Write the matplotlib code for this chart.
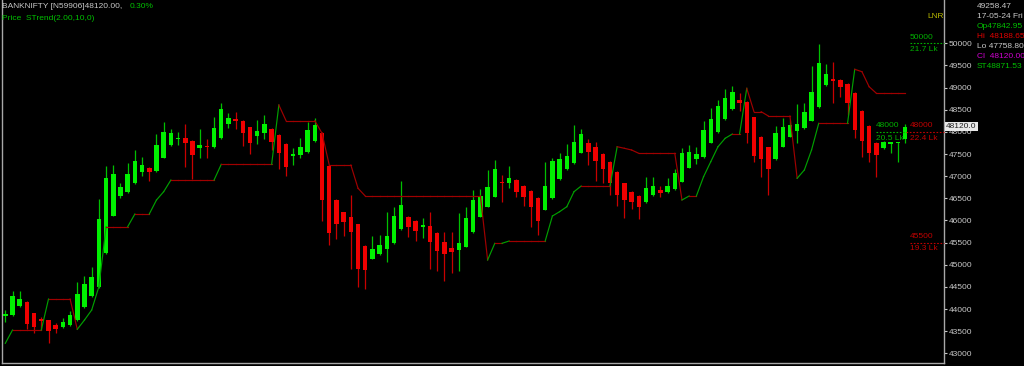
import numpy as np
import matplotlib
matplotlib.use('Agg')
import matplotlib.pyplot as plt

opens = [43849, 43865, 44075, 44150, 43900, 43770, 43750, 43640, 43590, 43630,
         43750, 44040, 44300, 44500, 45270, 46110, 46560, 46650, 46850, 47100,
         47180, 47120, 47420, 47700, 47830, 47855, 47800, 47630, 47680, 47650,
         47855, 48170, 48270, 48245, 48100, 47907, 47968, 48065, 47930, 47726,
         47455, 47478, 47552, 47794, 47968, 47229, 46462, 46184, 46085, 45913,
         45423, 45136, 45236, 45349, 45484, 45800, 46071, 45981, 45859, 45875,
         45710, 45507, 45371, 45333, 45407, 45732, 46085, 46310, 46536, 46875,
         46839, 46907, 46778, 46665, 46500, 46243, 46500, 46929, 47155, 47290,
         47530, 47742, 47652, 47500, 47327, 47101, 46839, 46642, 46552, 46410,
         46575, 46688, 46636, 46703, 46875, 47191, 47381, 47426, 47756, 47990,
         48291, 48517, 48720, 48681, 48329, 47891, 47652, 47381, 47665, 47891,
         48020, 48081, 48252, 48568, 49058, 49187, 49171, 49081, 48871, 48471,
         48133, 47756, 47629, 47726, 47742, 47843]
highs = [43978, 44400, 44414, 44170, 43920, 43830, 43760, 43680, 43790, 43960,
         44620, 44750, 44956, 46480, 47230, 47250, 46840, 47290, 47590, 47440,
         47200, 47945, 48216, 48060, 48000, 48170, 47820, 48060, 47830, 48340,
         48645, 48420, 48440, 48260, 48120, 48268, 48380, 48080, 47950, 47740,
         47643, 47855, 48230, 48306, 47990, 47250, 46480, 46200, 46575, 45930,
         45440, 45656, 45671, 46184, 46310, 46891, 46090, 46000, 46062, 46184,
         45730, 45746, 45746, 46161, 46297, 46688, 46703, 47139, 47365, 47026,
         47236, 46925, 46795, 46680, 46520, 47327, 47417, 47530, 47719, 48155,
         48058, 47839, 47778, 47515, 47340, 47115, 46855, 46660, 46570, 46988,
         46988, 46778, 46952, 47155, 47629, 47704, 47665, 48252, 48546, 48720,
         48961, 49036, 48885, 48700, 48345, 47905, 47665, 48133, 48306, 48268,
         48629, 48659, 49487, 49977, 49526, 49585, 49190, 49100, 48890, 48490,
         48150, 47775, 47795, 47775, 47780, 48189]
lows = [43700, 43840, 44040, 43540, 43450, 43530, 43240, 43450, 43570, 43610,
        43730, 44020, 44280, 44480, 45250, 46090, 46500, 46630, 46830, 47000,
        46890, 47100, 47400, 47680, 47700, 47200, 46940, 47420, 47420, 47630,
        47840, 48090, 48060, 47690, 47490, 47720, 47830, 47600, 47160, 47010,
        47252, 47417, 47530, 47780, 45988, 45446, 45574, 45649, 44897, 44504,
        44445, 45120, 45220, 45069, 45470, 45780, 45619, 45536, 45610, 44897,
        44858, 44633, 44820, 44858, 45390, 45715, 46070, 46295, 46520, 46423,
        46726, 46523, 46333, 45845, 45671, 46225, 46485, 46910, 47140, 47275,
        47515, 47245, 46891, 46852, 46575, 46326, 46048, 46258, 46026, 46395,
        46560, 46536, 46620, 46690, 46860, 47175, 47268, 47410, 47740, 47975,
        48275, 48500, 48471, 47749, 47327, 46988, 46575, 47365, 47650, 47875,
        47742, 48065, 48235, 48550, 49040, 48659, 48794, 48381, 47855, 47439,
        47327, 46988, 47607, 47530, 47327, 47759]
closes = [43881, 44300, 44226, 43660, 43590, 43740, 43510, 43540, 43700, 43860,
          44340, 44565, 44730, 46030, 46965, 47040, 46760, 47042, 47340, 47250,
          47100, 47700, 48000, 47968, 47870, 47740, 47480, 47710, 47650, 48080,
          48510, 48320, 48245, 47968, 47740, 48020, 48171, 47778, 47516, 47214,
          47494, 47652, 48042, 48155, 46462, 45710, 45913, 45972, 45746, 44897,
          44881, 45349, 45446, 45649, 46100, 46342, 45859, 45762, 45881, 45513,
          45310, 45242, 45288, 45484, 46048, 46462, 46552, 46762, 47162, 46839,
          46965, 46649, 46523, 46310, 45994, 46778, 47349, 47394, 47455, 47771,
          47945, 47546, 47342, 47162, 46852, 46575, 46462, 46423, 46310, 46739,
          46778, 46627, 46771, 47065, 47516, 47539, 47500, 48042, 48284, 48591,
          48772, 48907, 48645, 47968, 47455, 47381, 47155, 47968, 48117, 48148,
          48171, 48456, 48907, 49548, 49300, 49149, 49020, 48645, 48042, 47794,
          47530, 47478, 47778, 47756, 47765, 48120]
strend = [43226, 43526, 43526, 43526, 43526, 43526, 44226, 44226, 44226, 44226,
          43542, 43752, 43978, 44504, 45859, 45859, 45859, 45859, 46146, 46146,
          46146, 46462, 46649, 46913, 46913, 46913, 46913, 46913, 46913, 46913,
          47268, 47268, 47268, 47268, 47268, 47268, 47268, 47268, 48607, 48252,
          48252, 48252, 48252, 48252, 47968, 47252, 47252, 47252, 47252, 46726,
          46552, 46552, 46552, 46552, 46552, 46552, 46552, 46552, 46552, 46552,
          46552, 46552, 46552, 46552, 46552, 46552, 46552, 45107, 45484, 45484,
          45536, 45536, 45536, 45536, 45536, 45536, 46100, 46198, 46310, 46649,
          46778, 46778, 46778, 46778, 46778, 47665, 47629, 47591, 47516, 47516,
          47516, 47516, 47516, 47516, 46462, 46552, 46552, 46988, 47327, 47665,
          47855, 47952, 47952, 48984, 48456, 48456, 48358, 48358, 48358, 48358,
          46952, 47139, 47591, 48194, 48194, 48194, 48194, 48194, 49413, 49359,
          49020, 48872, 48872, 48872, 48872, 48872]

yticks = [43000, 43500, 44000, 44500, 45000, 45500, 46000, 46500,
          47000, 47500, 48000, 48500, 49000, 49500, 50000]
level_prices = [50000, 48000, 48000, 45500]
level_volumes = ['21.7 Lk', '20.5 Lk', '22.4 Lk', '19.3 Lk']
level_colors = ['#00b000', '#00b000', '#c00000', '#c00000']
level_spans = [(0.964, 1.0), (0.928, 0.960), (0.960, 1.0), (0.964, 1.0)]
level_textx = [0.964, 0.928, 0.964, 0.964]

info_lines = ['49258.47', '17-05-24 Fri', 'Op47842.95', 'Hi  48188.65',
              'Lo 47758.80', 'Cl  48120.00', 'ST48871.53']
info_colors = ['#c8c8c8', '#c8c8c8', '#00c000', '#e00000', '#c8c8c8', '#d000d0', '#00c000']

FONT = ['Liberation Sans', 'DejaVu Sans']
NARROW = ['Liberation Sans Narrow', 'Liberation Sans', 'DejaVu Sans']

W, H = 1024, 366
fig = plt.figure(figsize=(W / 100, H / 100), dpi=100, facecolor='black')
ax = fig.add_axes([2 / W, 3 / H, 942 / W, 363 / H], facecolor='black')

x = np.arange(1, len(opens) + 1)
o = np.array(opens, float)
h = np.array(highs, float)
l = np.array(lows, float)
c = np.array(closes, float)
up = c >= o

wick_col = np.where(up, '#00c000', '#c80000')
body_col = np.where(up, '#00f000', '#f00000')
ax.vlines(x, l, h, colors=wick_col, linewidth=0.9, zorder=2)
bottom = np.minimum(o, c)
height = np.maximum(np.abs(c - o), 35)
ax.bar(x, height, bottom=bottom, width=0.62, color=body_col, linewidth=0, zorder=3)

# supertrend: green while rising, red when flat / falling
st = np.array(strend, float)
for i in range(len(st) - 1):
    col = '#00a000' if st[i + 1] > st[i] else '#a00000'
    ax.plot(x[i:i + 2], st[i:i + 2], color=col, linewidth=0.85, zorder=4)

ax.set_xlim(0.54, 131.4)
ax.set_ylim(42781, 50978)

# level lines at the right edge
ytr = ax.get_yaxis_transform()
for p, v, col, (x0, x1), tx in zip(level_prices, level_volumes, level_colors, level_spans, level_textx):
    ax.plot([x0, x1], [p, p], transform=ytr, color=col, linestyle=(0, (1.5, 1.5)),
            linewidth=0.8, clip_on=False, zorder=5)
    ax.text(tx, p + 60, str(p), transform=ytr, color=col, fontsize=6, family=FONT,
            va='bottom', ha='left')
    ax.text(tx, p - 60, v, transform=ytr, color=col, fontsize=6, family=FONT,
            va='top', ha='left')

ax.text(0.9825, 0.955, 'LNR', transform=ax.transAxes, color='#b8b800', fontsize=6,
        family=FONT, ha='left', va='center')

for s in ['top']:
    ax.spines[s].set_visible(False)
for s in ['left', 'right', 'bottom']:
    ax.spines[s].set_color('#a8a8a8')
    ax.spines[s].set_linewidth(1.0)
ax.set_xticks([])
ax.yaxis.tick_right()
ax.set_yticks(yticks)
ax.set_yticklabels([str(t) for t in yticks], family=FONT)
ax.tick_params(axis='y', colors='#c8c8c8', labelsize=6, length=2.5, width=0.8,
               direction='out', pad=1)

# current price marker
ax.text(1.002, closes[-1], '%.1f' % closes[-1], transform=ytr, fontsize=6, family=FONT,
        color='#202020', va='center', ha='left', zorder=6,
        bbox=dict(boxstyle='square,pad=0.15', facecolor='#e8e8e8', edgecolor='none'),
        clip_on=False)

# header text
fig.text(2 / W, 1 - 7 / H, 'BANKNIFTY [N59906]48120.00,', color='#c8c8c8', fontsize=6,
         family=NARROW, va='center', ha='left')
fig.text(130 / W, 1 - 7 / H, '0.30%', color='#00c000', fontsize=6,
         family=NARROW, va='center', ha='left')
fig.text(2 / W, 1 - 19 / H, 'Price  STrend(2.00,10,0)', color='#00c000', fontsize=6,
         family=NARROW, va='center', ha='left')

for k, (txt, col) in enumerate(zip(info_lines, info_colors)):
    fig.text(977 / W, 1 - (7 + 10 * k) / H, txt, color=col, fontsize=6, family=FONT,
             va='center', ha='left')

fig.savefig('out.png', dpi=100, facecolor='black')
